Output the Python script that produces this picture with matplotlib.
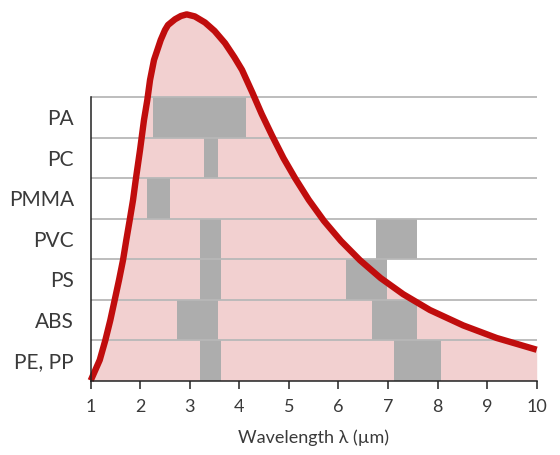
import matplotlib
matplotlib.use("Agg")
import matplotlib.pyplot as plt

# plastics, bottom row first
plastics = ["PE, PP", "ABS", "PS", "PVC", "PMMA", "PC", "PA"]

# absorption bands per plastic (start, end) in um
bands = {
    "PE, PP": [(3.20, 3.62), (7.13, 8.06)],
    "ABS": [(2.74, 3.56), (6.67, 7.58)],
    "PS": [(3.20, 3.62), (6.15, 6.97)],
    "PVC": [(3.20, 3.62), (6.75, 7.58)],
    "PMMA": [(2.13, 2.59)],
    "PC": [(3.28, 3.56)],
    "PA": [(2.25, 4.13)],
}

# emission curve (y in row units)
curve_x = [1.0, 1.182, 1.295, 1.395, 1.484, 1.571, 1.652, 1.718, 1.787, 1.854,
           1.908, 1.995, 2.075, 2.142, 2.197, 2.277, 2.412, 2.499, 2.56, 2.701,
           2.82, 2.937, 3.1, 3.306, 3.5, 3.71, 3.9, 4.053, 4.265, 4.45, 4.658,
           4.89, 5.122, 5.4, 5.707, 6.05, 6.434, 6.85, 7.307, 7.846, 8.518,
           9.192, 10.0]
curve_y = [0.0, 0.506, 0.994, 1.488, 1.988, 2.481, 2.975, 3.469, 3.963, 4.457,
           4.951, 5.691, 6.432, 6.926, 7.42, 7.914, 8.407, 8.654, 8.778, 8.919,
           9.0, 9.04, 8.99, 8.84, 8.63, 8.33, 7.98, 7.67, 7.1, 6.58, 6.05,
           5.49, 5.0, 4.46, 3.94, 3.445, 2.97, 2.53, 2.13, 1.74, 1.36,
           1.05, 0.76]

ticks = list(range(1, 11))

plt.rcParams['font.family'] = ['Lato', 'DejaVu Sans']

fig = plt.figure(figsize=(5.6, 4.55), dpi=100)
ax = fig.add_axes([0.162, 0.1637, 0.7964, 0.8363])

ax.fill_between(curve_x, curve_y, 0, color="#f2d0d0", lw=0, zorder=1)

for i, name in enumerate(plastics):
    spans = [(a, b - a) for a, b in bands[name]]
    ax.broken_barh(spans, (i, 1), facecolors="#adadad", zorder=2)

ax.hlines(range(1, len(plastics) + 1), 1, 10.05, colors="#b8b8b8", lw=1.3, zorder=3)

ax.plot(curve_x, curve_y, color="#c00d0d", lw=4.6, solid_joinstyle="round",
        solid_capstyle="butt", zorder=5, clip_on=False)

ax.set_xlim(1, 10)
ax.set_ylim(0, 9.395)

for s in ["top", "right"]:
    ax.spines[s].set_visible(False)
ax.spines["left"].set_bounds(0, len(plastics))
for s in ["left", "bottom"]:
    ax.spines[s].set_linewidth(1.1)
    ax.spines[s].set_color("#222222")
    ax.spines[s].set_zorder(6)

ax.set_xticks(ticks)
ax.set_xticklabels([str(t) for t in ticks], fontsize=13, color="#3a3a3a")
ax.tick_params(axis="x", length=6, width=1.1, color="#222222", pad=7)

ax.set_yticks([i + 0.5 for i in range(len(plastics))])
ax.set_yticklabels(plastics, fontsize=15, color="#3a3a3a")
ax.tick_params(axis="y", length=0, pad=12)

ax.set_xlabel("Wavelength λ (µm)", fontsize=13, color="#3a3a3a", labelpad=11)

fig.savefig("out.png", dpi=100)
